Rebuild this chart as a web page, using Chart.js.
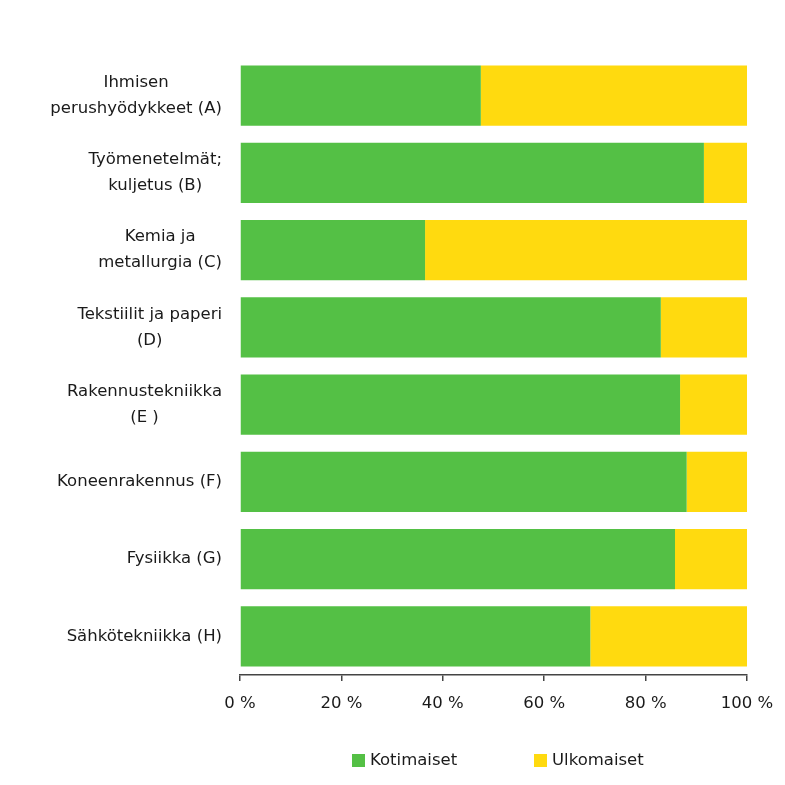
<!DOCTYPE html>
<html>
<head>
<meta charset="utf-8">
<script src="https://cdn.jsdelivr.net/npm/chart.js@4.4.0/dist/chart.umd.min.js"></script>
<style>
html,body{margin:0;padding:0;background:#fff;}
#wrap{width:785px;height:785px;}
</style>
</head>
<body>
<div id="wrap"><canvas id="chart" width="785" height="785"></canvas></div>
<script>
var categories = [
	["Ihmisen", "perushyödykkeet (A)"],
	["Työmenetelmät;", "kuljetus (B)"],
	["Kemia ja", "metallurgia (C)"],
	["Tekstiilit ja paperi", "(D)"],
	["Rakennustekniikka", "(E )"],
	["Koneenrakennus (F)"],
	["Fysiikka (G)"],
	["Sähkötekniikka (H)"]
];
var kotimaiset = [47.5, 91.5, 36.5, 83.0, 86.8, 88.1, 85.8, 69.1];
var ulkomaiset = [52.5, 8.5, 63.5, 17.0, 13.2, 11.9, 14.2, 30.9];
var seriesNames = ["Kotimaiset", "Ulkomaiset"];
var seriesColors = ["#54c045", "#ffda0f"];
var xTicks = [0, 20, 40, 60, 80, 100];

var FONT = "DejaVu Sans, Verdana, sans-serif";
var FSIZE = 16.5;

// category labels: each block right edge next to the axis, lines centered inside it
var labelPlugin = {
	id: "catLabels",
	afterDraw: function(chart) {
		var ctx = chart.ctx;
		var y = chart.scales.y;
		var right = chart.chartArea.left - 18;
		ctx.save();
		ctx.font = FSIZE + "px " + FONT;
		ctx.fillStyle = "#1a1a1a";
		ctx.textAlign = "center";
		ctx.textBaseline = "middle";
		for(var i = 0;i < categories.length;++i) {
			var lines = categories[i];
			var w = 0;
			for(var j = 0;j < lines.length;++j) w = Math.max(w, ctx.measureText(lines[j]).width);
			var cx = right - w / 2;
			var cy = y.getPixelForValue(i);
			var lh = 26;
			var start = cy - (lines.length - 1) * lh / 2;
			for(var j = 0;j < lines.length;++j) ctx.fillText(lines[j], cx, start + j * lh);
		}
		ctx.restore();
	}
};

// legend at the bottom
var legendPlugin = {
	id: "bottomLegend",
	afterDraw: function(chart) {
		var ctx = chart.ctx;
		var pos = [352, 534];
		ctx.save();
		ctx.font = FSIZE + "px " + FONT;
		ctx.textBaseline = "middle";
		ctx.textAlign = "left";
		for(var i = 0;i < seriesNames.length;++i) {
			ctx.fillStyle = seriesColors[i];
			ctx.fillRect(pos[i], 754, 13, 13);
			ctx.fillStyle = "#1a1a1a";
			ctx.fillText(seriesNames[i], pos[i] + 18, 761);
		}
		ctx.restore();
	}
};

var data = {
	labels: categories,
	datasets: [{
		label: seriesNames[0],
		data: kotimaiset,
		backgroundColor: seriesColors[0],
		barPercentage: 0.78,
		categoryPercentage: 1
	},{
		label: seriesNames[1],
		data: ulkomaiset,
		backgroundColor: seriesColors[1],
		barPercentage: 0.78,
		categoryPercentage: 1
	}]
};

var config = {
	type: "bar",
	data: data,
	options: {
		indexAxis: "y",
		responsive: false,
		animation: false,
		layout: {padding: {left: 240, right: 38, top: 57, bottom: 0}},
		plugins: {
			legend: {display: false},
			tooltip: {enabled: false}
		},
		scales: {
			x: {
				stacked: true,
				min: 0,
				max: 100,
				afterBuildTicks: function(scale) {
					scale.ticks = xTicks.map(function(v) { return {value: v}; });
				},
				afterFit: function(scale) {
					scale.height = 110;
					scale.paddingLeft = 0;
					scale.paddingRight = 0;
				},
				grid: {display: true, drawOnChartArea: false, drawTicks: true, tickLength: 6, color: "#444", lineWidth: 1.5},
				border: {display: true, color: "#444", width: 1.5},
				ticks: {
					padding: 13,
					color: "#1a1a1a",
					font: {family: FONT, size: FSIZE},
					maxRotation: 0,
					callback: function(v) { return v + " %"; }
				}
			},
			y: {
				stacked: true,
				display: false
			}
		}
	},
	plugins: [labelPlugin, legendPlugin]
};

const chart = new Chart(document.getElementById("chart"), config);
</script>
</body>
</html>
